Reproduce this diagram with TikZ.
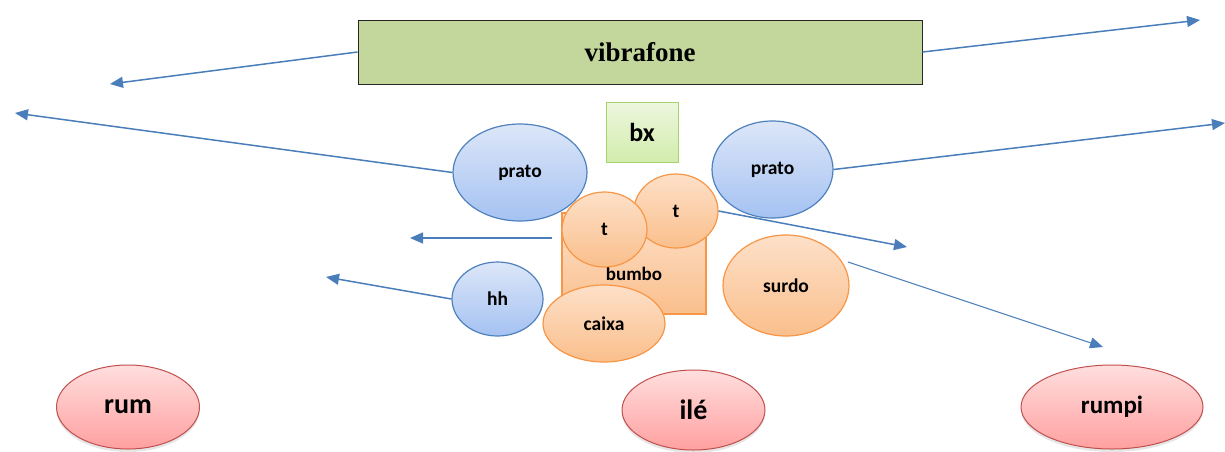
\documentclass[tikz,border=0pt]{standalone}
\usepackage{fontspec}
\setmainfont{Carlito}
\newfontfamily\vibfont{Liberation Serif}
\usepackage{tikz}
\usetikzlibrary{shapes.geometric, arrows.meta, shadows}

\definecolor{linkblue}{HTML}{4A7EBB}
\definecolor{pratoline}{HTML}{4F81BD}
\definecolor{pratotop}{HTML}{DCE6F8}
\definecolor{pratobot}{HTML}{A5C2F2}
\definecolor{drumline}{HTML}{F79646}
\definecolor{drumtop}{HTML}{FDE0C8}
\definecolor{drumbot}{HTML}{FABF8C}
\definecolor{atabline}{HTML}{C0504D}
\definecolor{atabtop}{HTML}{FFDEDE}
\definecolor{atabbot}{HTML}{FFA0A0}
\definecolor{vibfill}{HTML}{C3D69B}
\definecolor{bxline}{HTML}{A6D36C}
\definecolor{bxtop}{HTML}{EDF7DE}
\definecolor{bxbot}{HTML}{D2ECAC}

\begin{document}
\begin{tikzpicture}[x=1pt, y=-1pt,
    prato/.style={ellipse, draw=pratoline, line width=1.2pt, top color=pratotop, bottom color=pratobot, inner sep=0pt, font=\fontsize{19.5}{21}\selectfont\bfseries},
    drum/.style={ellipse, draw=drumline, line width=1.2pt, top color=drumtop, bottom color=drumbot, inner sep=0pt, font=\fontsize{19.5}{21}\selectfont\bfseries},
    atab/.style={ellipse, draw=atabline, line width=1pt, top color=atabtop, bottom color=atabbot, inner sep=0pt, font=\fontsize{28}{30}\selectfont\bfseries, drop shadow={opacity=0.2, shadow xshift=0pt, shadow yshift=-3pt}},
    arrow/.style={-{Triangle[length=13pt, width=11pt]}, draw=linkblue, line width=1.5pt}
]
    \useasboundingbox (0,0) rectangle (1225,451);

    \node[rectangle, draw=black!85, line width=1pt, fill=vibfill, minimum width=564pt, minimum height=64pt, inner sep=0pt, font=\vibfont\fontsize{27}{29}\selectfont\bfseries] (vib) at (640,52) {vibrafone};
    \node[rectangle, draw=bxline, line width=1pt, top color=bxtop, bottom color=bxbot, minimum width=72pt, minimum height=60pt, inner sep=0pt, font=\fontsize{26}{28}\selectfont\bfseries] (bx) at (642,132) {bx};

    \node[prato, minimum width=134pt, minimum height=97pt] (pratoL) at (520,172.5) {prato};
    \node[prato, minimum width=121pt, minimum height=97pt] (pratoR) at (772.5,169.5) {prato};

    % kit: bumbo at the back, toms and caixa on top
    \node[rectangle, draw=drumline, line width=1.2pt, top color=drumtop, bottom color=drumbot, minimum width=144pt, minimum height=101pt, inner sep=0pt, font=\fontsize{19}{21}\selectfont\bfseries] (bumbo) at (634,263.5) {\raisebox{-17pt}[0pt][0pt]{bumbo}};
    \node[drum, minimum width=84pt, minimum height=74pt] (tR) at (676,211) {t};
    \node[drum, minimum width=85pt, minimum height=75pt] (tL) at (604.5,229.5) {t};
    \node[prato, minimum width=91pt, minimum height=74pt] (hh) at (497.5,299) {hh};
    \node[drum, minimum width=122pt, minimum height=77pt] (caixa) at (604,323.5) {caixa};
    \node[drum, minimum width=126pt, minimum height=101pt] (surdo) at (786,285.5) {surdo};

    \node[atab, minimum width=143pt, minimum height=84pt] (rum) at (128,407) {rum};
    \node[atab, minimum width=143pt, minimum height=80pt] (ile) at (693.5,410) {ilé};
    \node[atab, minimum width=182pt, minimum height=84pt, font=\fontsize{25}{27}\selectfont\bfseries] (rumpi) at (1112,407) {rumpi};

    % free ends of the arrows
    \coordinate (vibL) at (110,84);
    \coordinate (vibR) at (1200,20);
    \coordinate (pratoLout) at (15,113);
    \coordinate (pratoRout) at (1225,123);
    \coordinate (midA) at (552,238);
    \coordinate (midB) at (410,238);
    \coordinate (hhout) at (326,277);
    \coordinate (tout) at (907,247);
    \coordinate (surdoA) at (848,262);
    \coordinate (surdoB) at (1103,347);

    \draw[arrow] (vib.west) -- (vibL);
    \draw[arrow] (vib.east) -- (vibR);
    \draw[arrow] (pratoL.west) -- (pratoLout);
    \draw[arrow] (pratoR.east) -- (pratoRout);
    \draw[arrow] (midA) -- (midB);
    \draw[arrow] (hh.west) -- (hhout);
    \draw[arrow] (tR.east) -- (tout);
    \draw[arrow, line width=1pt] (surdoA) -- (surdoB);
\end{tikzpicture}
\end{document}
